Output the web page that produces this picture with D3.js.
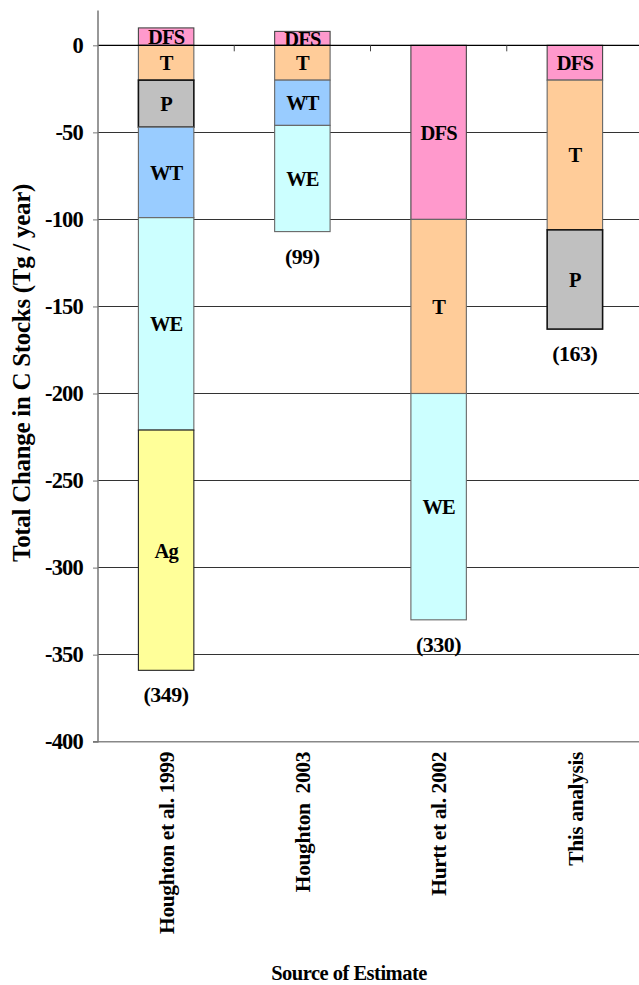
<!DOCTYPE html>
<html><head><meta charset="utf-8">
<script src="https://cdn.jsdelivr.net/npm/d3@7"></script>
<style>
html,body{margin:0;padding:0;background:#fff;}
svg{display:block;}
</style></head>
<body>
<svg id="chart" width="639" height="985"></svg>
<script>
// ---- data ----
const categories = ["Houghton et al. 1999", "Houghton  2003", "Hurtt et al. 2002", "This analysis"];
const seriesNames = ["DFS", "T", "P", "WT", "WE", "Ag"];
const DFS = [10, 8, -100, -20];
const T   = [-20, -20, -100, -86];
const P   = [-27, 0, 0, -57];
const WT  = [-52, -26, 0, 0];
const WE  = [-122, -61, -130, 0];
const Ag  = [-138, 0, 0, 0];
const totals = ["(349)", "(99)", "(330)", "(163)"];
const yTicks = [0, -50, -100, -150, -200, -250, -300, -350, -400];
const colors = {DFS:"#FF99CC", T:"#FFCC99", P:"#C0C0C0", WT:"#99CCFF", WE:"#CCFFFF", Ag:"#FFFF99"};
const strokes = {DFS:"#444", T:"#666", P:"#111", WT:"#666", WE:"#666", Ag:"#222"};

const FONT = "'Liberation Serif', 'Times New Roman', serif";

const seriesValues = {DFS, T, P, WT, WE, Ag};
const table = categories.map((c, i) => {
  const row = {cat: c};
  seriesNames.forEach(s => row[s] = seriesValues[s][i]);
  return row;
});

const svg = d3.select("#chart");
const x = d3.scaleBand().domain(categories).range([98, 643]).paddingInner(0.593).paddingOuter(0.2965);
const y = d3.scaleLinear().domain([-400, 20]).range([741.7, 10.5]);

function serif(sel, size, ls) {
  return sel.style("font-family", FONT).style("font-weight", "bold")
    .style("font-size", size + "px").style("letter-spacing", ls + "px").style("fill", "#000");
}

// gridlines
svg.append("g").selectAll("line").data(yTicks.filter(t => t !== 0 && t !== -400)).join("line")
  .attr("x1", 98).attr("x2", 639).attr("y1", d => y(d)).attr("y2", d => y(d))
  .attr("stroke", "#333").attr("stroke-width", 1).attr("shape-rendering", "crispEdges");
// bottom line
svg.append("line").attr("x1", 98).attr("x2", 639).attr("y1", y(-400)).attr("y2", y(-400))
  .attr("stroke", "#888").attr("stroke-width", 1.5);

// stacked bars
const stack = d3.stack().keys(seriesNames).offset(d3.stackOffsetDiverging);
const stacked = stack(table);

const segs = [];
stacked.forEach(layer => {
  layer.forEach(d => {
    if (d[1] - d[0] !== 0) segs.push({key: layer.key, cat: d.data.cat, y0: d[0], y1: d[1]});
  });
});

svg.append("g").selectAll("rect").data(segs).join("rect")
  .attr("x", d => x(d.cat)).attr("width", x.bandwidth())
  .attr("y", d => y(d.y1)).attr("height", d => y(d.y0) - y(d.y1))
  .attr("fill", d => colors[d.key])
  .attr("stroke", d => strokes[d.key])
  .attr("stroke-width", d => (d.key === "P" ? 1.6 : 1.1));

serif(svg.append("g").selectAll("text").data(segs).join("text")
  .attr("x", d => x(d.cat) + x.bandwidth() / 2)
  .attr("y", d => (y(d.y0) + y(d.y1)) / 2)
  .attr("dy", "0.36em")
  .attr("text-anchor", "middle")
  .text(d => d.key), 20.5, -0.9);

// zero line
svg.append("line").attr("x1", 98).attr("x2", 639).attr("y1", y(0)).attr("y2", y(0))
  .attr("stroke", "#000").attr("stroke-width", 1.2);
// category ticks at zero line
const bounds = categories.slice(1).map(c => x(c) - x.step() * x.paddingInner() / 2);
svg.append("g").selectAll("line").data(bounds).join("line")
  .attr("x1", d => d).attr("x2", d => d).attr("y1", y(0)).attr("y2", y(0) + 6)
  .attr("stroke", "#444").attr("stroke-width", 1);

// y axis
const yAxis = d3.axisLeft(y).tickValues(yTicks).tickSize(5).tickPadding(10).tickFormat(d3.format("d"));
const ga = svg.append("g").attr("transform", "translate(98,0)").call(yAxis);
ga.select(".domain").attr("stroke", "#777").attr("stroke-width", 1.5).attr("d", `M-5,${y(-400)}H0V${y(20)}`);
ga.selectAll(".tick line").attr("stroke", "#777");
serif(ga.selectAll(".tick text"), 22.5, -0.8)
  .text(d => d === 0 ? "0" : "-" + Math.abs(d));

// totals
const bottoms = categories.map(c => d3.min(segs.filter(s => s.cat === c), s => s.y0));
serif(svg.append("g").selectAll("text").data(categories).join("text")
  .attr("x", c => x(c) + x.bandwidth() / 2)
  .attr("y", (c, i) => y(bottoms[i]) + 24)
  .attr("dy", "0.36em").attr("text-anchor", "middle")
  .text((c, i) => totals[i]), 22, -0.5);

// category labels
serif(svg.append("g").selectAll("text").data(categories).join("text")
  .attr("transform", c => `translate(${x(c) + x.bandwidth() / 2},752) rotate(-90)`)
  .attr("dy", "0.36em").attr("text-anchor", "end")
  .style("white-space", "pre")
  .text(c => c), 21.5, -0.4);

// axis titles
serif(svg.append("text").attr("transform", "translate(21,373) rotate(-90)")
  .attr("dy", "0.36em").attr("text-anchor", "middle")
  .text("Total Change in C Stocks (Tg / year)"), 25, -0.3);
serif(svg.append("text").attr("x", 349).attr("y", 973)
  .attr("dy", "0.36em").attr("text-anchor", "middle")
  .text("Source of Estimate"), 20.5, -0.5);
</script>
</body></html>
